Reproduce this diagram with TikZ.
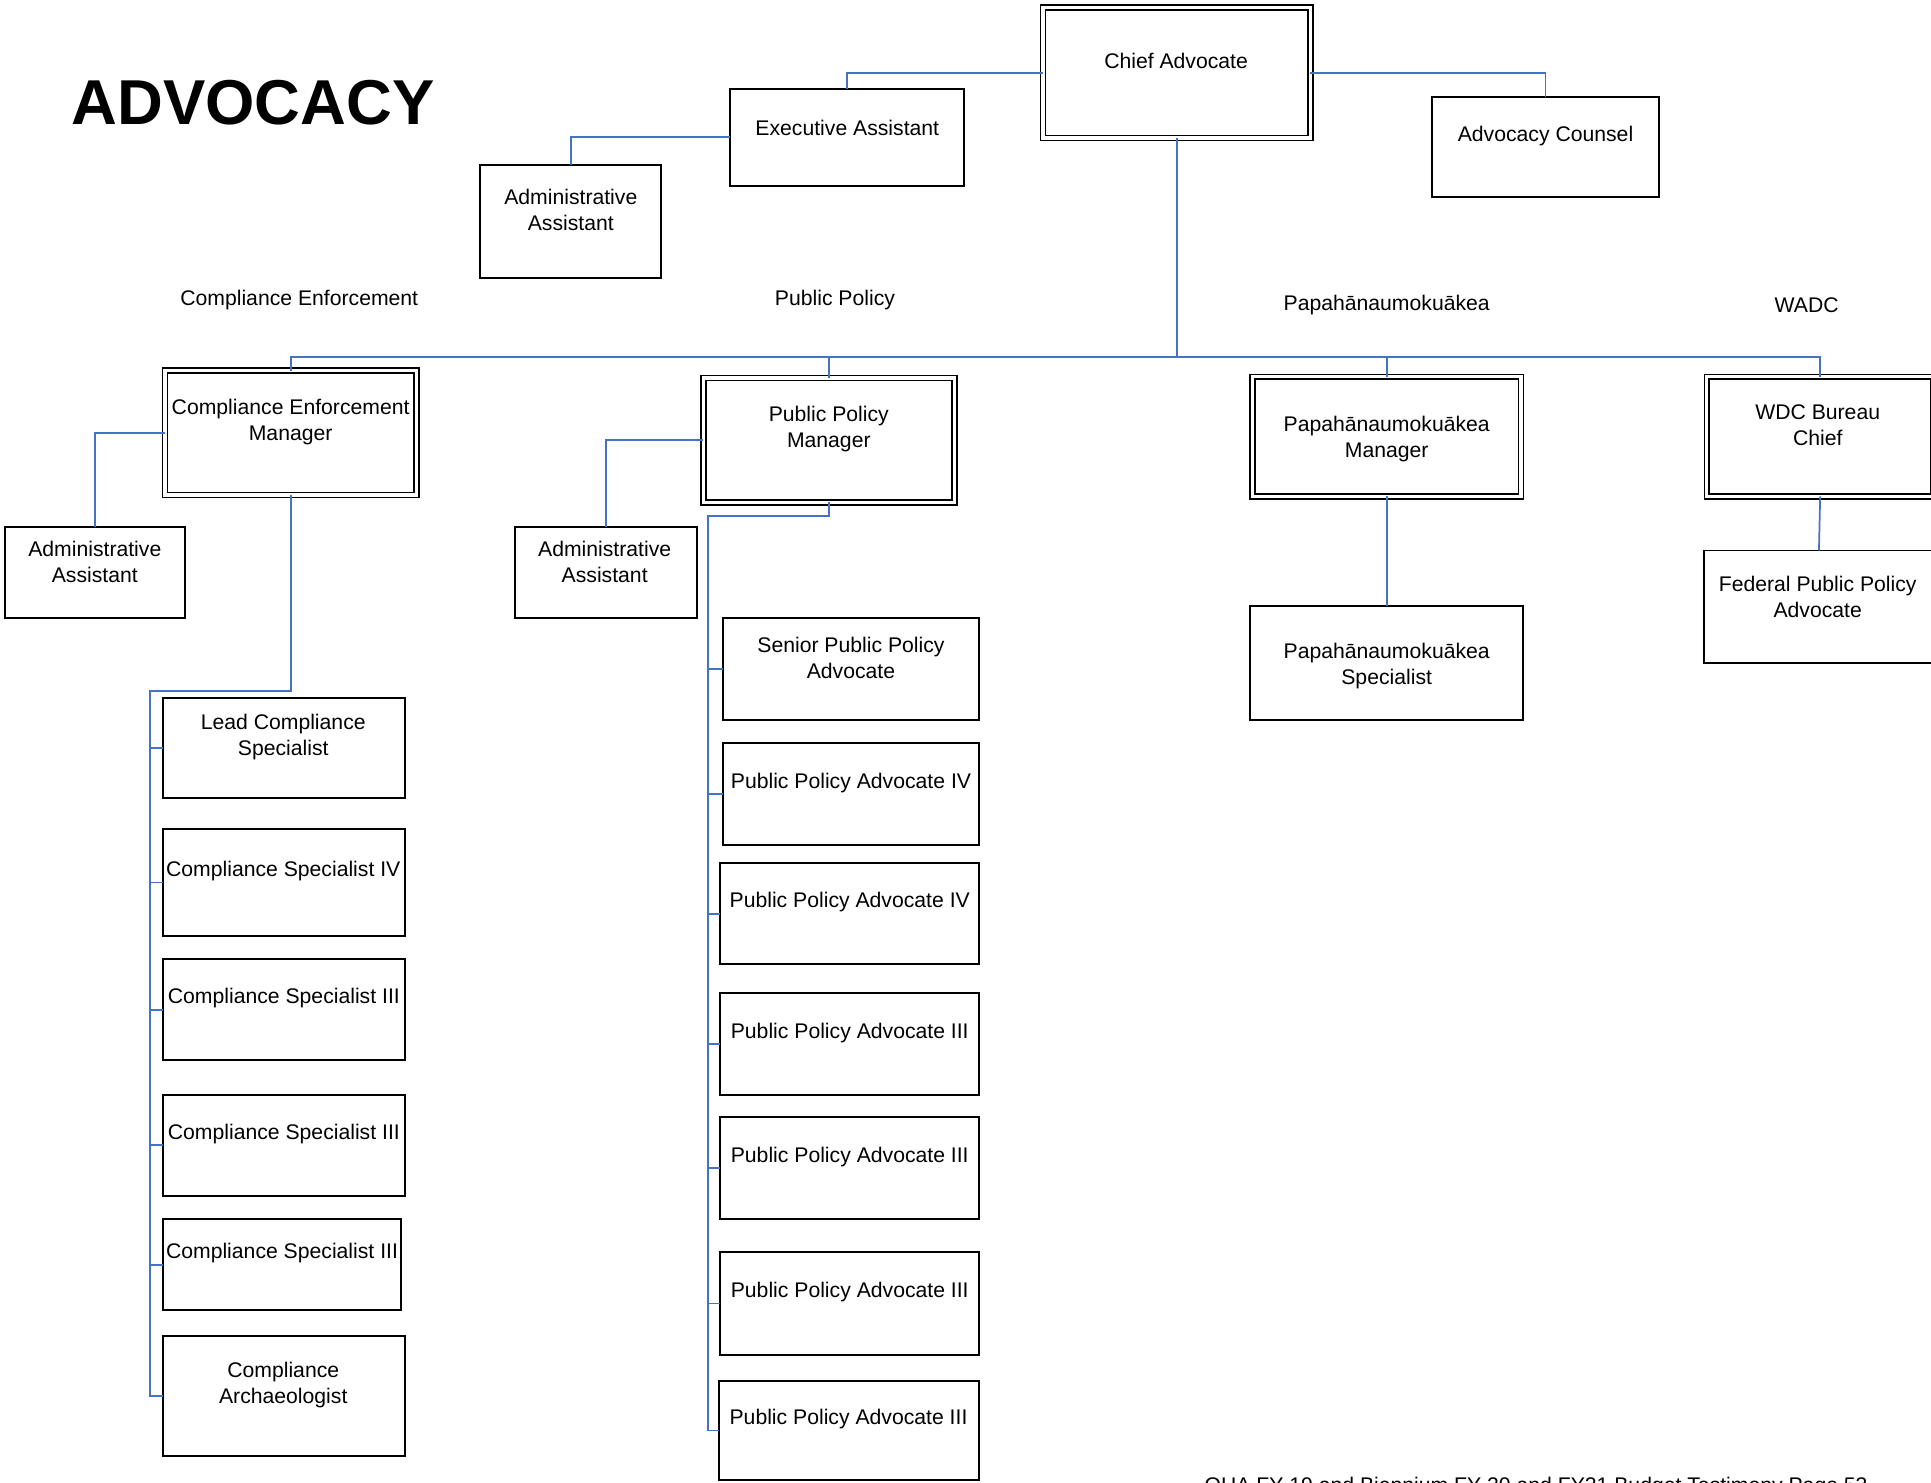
\documentclass[tikz,border=0pt]{standalone}
\usepackage{fontspec}
\setmainfont{Liberation Sans}
\definecolor{connblue}{RGB}{68,114,196}
\newcommand\orgbox[6]{%
  \pgfmathsetmacro\boxw{#4-#2}\pgfmathsetmacro\boxh{#5-#3}%
  \node[#6, minimum width=\boxw pt, minimum height=\boxh pt] (#1) at ({(#2+#4)/2},{(#3+#5)/2}) {};}
\begin{document}
\begin{tikzpicture}[x=1pt,y=-1pt,
  plainbox/.style={draw=black, line width=1.6pt, rectangle, inner sep=0pt, outer sep=0pt, fill=none},
  dblbox/.style={draw=black, line width=1.4pt, double=white, double distance=2.6pt, rectangle, inner sep=0pt, outer sep=0pt},
  conn/.style={draw=connblue, line width=1.4pt},
  lbl/.style={inner sep=0pt, align=center, yshift=-1.5pt, font=\fontsize{17.2}{21}\selectfont},
]
\useasboundingbox (0,0) rectangle (1568,1204);
\clip (0,0) rectangle (1568,1204);
\fill[white] (0,0) rectangle (1568,1204);

% title
\node[anchor=base, inner sep=0pt, font=\fontsize{51.5}{60}\selectfont\bfseries] (title) at (205.5,101) {ADVOCACY};

% top level boxes
\orgbox{chief}{847}{6}{1064}{112}{dblbox}
\orgbox{exec}{593}{72}{783}{151}{plainbox}
\orgbox{counsel}{1163}{79}{1347}{160}{plainbox}
\orgbox{admA}{390}{134}{537}{226}{plainbox}

% managers
\orgbox{cem}{134}{301}{338}{402}{dblbox}
\orgbox{ppm}{571}{307}{775}{408}{dblbox}
\orgbox{papm}{1017}{306}{1235}{403}{dblbox}
\orgbox{wdc}{1386}{306}{1570}{403}{dblbox}

\orgbox{admB}{4}{428}{150}{502}{plainbox}
\orgbox{admC}{418}{428}{566}{502}{plainbox}
\orgbox{paps}{1015}{492}{1237}{585}{plainbox}
\orgbox{fed}{1384}{447}{1570}{538}{plainbox}

% compliance column
\orgbox{lcs}{132}{567}{329}{648}{plainbox}
\orgbox{csfour}{132}{673}{329}{760}{plainbox}
\orgbox{csa}{132}{779}{329}{861}{plainbox}
\orgbox{csb}{132}{889}{329}{971}{plainbox}
\orgbox{csc}{132}{990}{326}{1064}{plainbox}
\orgbox{arch}{132}{1085}{329}{1182}{plainbox}

% public policy column
\orgbox{spa}{587}{502}{795}{585}{plainbox}
\orgbox{ppa}{587}{603}{795}{686}{plainbox}
\orgbox{ppb}{585}{701}{795}{783}{plainbox}
\orgbox{ppc}{585}{806}{795}{889}{plainbox}
\orgbox{ppd}{585}{907}{795}{990}{plainbox}
\orgbox{ppe}{585}{1017}{795}{1100}{plainbox}
\orgbox{ppf}{584}{1121}{795}{1202}{plainbox}

% labels in boxes
\node[lbl] (tchief) at (955,48) {Chief Advocate};
\node[lbl] (texec) at (688,102) {Executive Assistant};
\node[lbl] (tcounsel) at (1255,109) {Advocacy Counsel};
\node[lbl] (tadmA) at (463.5,169) {Administrative\\Assistant};
\node[lbl] (tcem) at (236,341) {Compliance Enforcement\\Manager};
\node[lbl] (tadmB) at (77,455) {Administrative\\Assistant};
\node[lbl] (tppm) at (673,347) {Public Policy\\Manager};
\node[lbl] (tadmC) at (491,455) {Administrative\\Assistant};
\node[lbl] (tpapm) at (1126,355) {Papahānaumokuākea\\Manager};
\node[lbl] (tpaps) at (1126,539) {Papahānaumokuākea\\Specialist};
\node[lbl] (twdc) at (1476,344) {WDC Bureau\\Chief};
\node[lbl] (tfed) at (1476,483) {Federal Public Policy\\Advocate};

\node[lbl] (tlcs) at (230,597) {Lead Compliance\\Specialist};
\node[lbl] (tcsfour) at (230,706) {Compliance Specialist IV};
\node[lbl] (tcsa) at (230.5,809) {Compliance Specialist III};
\node[lbl] (tcsb) at (230.5,919) {Compliance Specialist III};
\node[lbl] (tcsc) at (229,1016) {Compliance Specialist III};
\node[lbl] (tarch) at (230,1123) {Compliance\\Archaeologist};

\node[lbl] (tspa) at (691,532.5) {Senior Public Policy\\Advocate};
\node[lbl] (tppa) at (691,634) {Public Policy Advocate IV};
\node[lbl] (tppb) at (690,731) {Public Policy Advocate IV};
\node[lbl] (tppc) at (690,837) {Public Policy Advocate III};
\node[lbl] (tppd) at (690,938) {Public Policy Advocate III};
\node[lbl] (tppe) at (690,1048) {Public Policy Advocate III};
\node[lbl] (tppf) at (689,1151) {Public Policy Advocate III};

% section labels
\node[lbl] (sce) at (243,242) {Compliance Enforcement};
\node[lbl] (spp) at (678,242) {Public Policy};
\node[lbl] (spap) at (1126,246) {Papahānaumokuākea};
\node[lbl] (swadc) at (1467,246) {WADC};

% footer (cut off by the page edge, as in the reference)
\node[anchor=base west, inner sep=0pt, font=\fontsize{17.2}{21}\selectfont] (footer) at (978,1212) {OHA FY 19 and Biennium FY 20 and FY21 Budget Testimony Page 53};

% connectors
\coordinate (bus) at (956,290);
\coordinate (ceL) at (122,561);
\coordinate (ppL) at (575,419);

\draw[conn] (chief.west) -| (exec.north);
\draw[conn] (chief.east) -| (counsel.north);
\draw[conn] (exec.west) -| (admA.north);
\draw[conn] (chief.south) -- (chief.south |- bus);
\draw[conn] (cem.north) -- (cem.north |- bus) -- (wdc.north |- bus) -- (wdc.north);
\draw[conn] (ppm.north |- bus) -- (ppm.north);
\draw[conn] (papm.north |- bus) -- (papm.north);

\draw[conn] (cem.west) -| (admB.north);
\draw[conn] (ppm.west) -| (admC.north);
\draw[conn] (papm.south) -- (paps.north);
\draw[conn] (wdc.south) -- (fed.north);

\draw[conn] (cem.south) |- (ceL) |- (arch.west);
\foreach \b in {lcs,csfour,csa,csb,csc}{\draw[conn] (ceL |- \b.west) -- (\b.west);}

\draw[conn] (ppm.south) |- (ppL) |- (ppf.west);
\foreach \b in {spa,ppa,ppb,ppc,ppd,ppe}{\draw[conn] (ppL |- \b.west) -- (\b.west);}
\end{tikzpicture}
\end{document}
